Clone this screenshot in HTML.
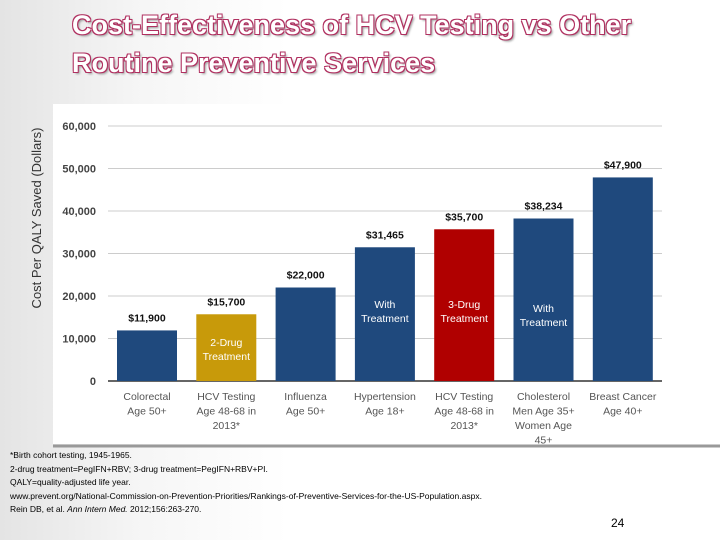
<!DOCTYPE html>
<html><head><meta charset="utf-8"><style>
body{margin:0;width:720px;height:540px;overflow:hidden;background:linear-gradient(90deg,#e4e4e4 0%,#f6f6f6 20%,#fff 40%);font-family:"Liberation Sans",sans-serif;position:relative}
.title{position:absolute;left:72px;top:6px;font-size:27px;font-weight:bold;color:#fff;line-height:38px;
text-shadow:-1px -1px 0 #b03060,1px -1px 0 #b03060,-1px 1px 0 #b03060,1px 1px 0 #b03060,2px 2px 2px #999}
.foot{position:absolute;left:10px;top:449px;font-size:8.5px;line-height:13.5px;color:#000}
</style></head><body>
<div class="title">Cost-Effectiveness of HCV Testing vs Other<br>Routine Preventive Services</div>
<svg width="720" height="540" style="position:absolute;left:0;top:0">
<rect x="53" y="104" width="667" height="340" fill="#fff"/>
<line x1="53" y1="446" x2="720" y2="446" stroke="#999" stroke-width="3"/>
<g id="g"></g>
</svg>
<div class="foot">*Birth cohort testing, 1945-1965.<br>2-drug treatment=PegIFN+RBV; 3-drug treatment=PegIFN+RBV+PI.<br>QALY=quality-adjusted life year.<br>www.prevent.org/National-Commission-on-Prevention-Priorities/Rankings-of-Preventive-Services-for-the-US-Population.aspx.<br>Rein DB, et al. <i>Ann Intern Med.</i> 2012;156:263-270.</div>
<div style="position:absolute;left:611px;top:516px;font-size:12px">24</div>
<script>
const categories=[["Colorectal","Age 50+"],["HCV Testing","Age 48-68 in","2013*"],["Influenza","Age 50+"],["Hypertension","Age 18+"],["HCV Testing","Age 48-68 in","2013*"],["Cholesterol","Men Age 35+","Women Age","45+"],["Breast Cancer","Age 40+"]];
const values=[11900,15700,22000,31465,35700,38234,47900];
const valueLabels=["$11,900","$15,700","$22,000","$31,465","$35,700","$38,234","$47,900"];
const colors=["#1f497d","#c89a0a","#1f497d","#1f497d","#b00000","#1f497d","#1f497d"];
const inner=[null,["2-Drug","Treatment"],null,["With","Treatment"],["3-Drug","Treatment"],["With","Treatment"],null];
const ticks=[0,10000,20000,30000,40000,50000,60000];
const tickLabels=["0","10,000","20,000","30,000","40,000","50,000","60,000"];
const NS="http://www.w3.org/2000/svg",g=document.getElementById('g');
const y=v=>381-v*(255/60000), x0=i=>117+i*79.3, bw=60;
function mk(t,a,txt){const e=document.createElementNS(NS,t);for(const k in a)e.setAttribute(k,a[k]);if(txt!=null)e.textContent=txt;g.appendChild(e);return e;}
ticks.forEach((t,i)=>{
 const l=mk('line',{x1:108,x2:662,y1:y(t),y2:y(t),stroke:t?'#ccc':'#333','stroke-width':t?1:1.5});
 
 
 const tx=mk('text',{x:96,y:y(t)+4,'text-anchor':'end','font-size':11,'font-weight':'bold',fill:'#444'},tickLabels[i]);
 
 
});
values.forEach((v,i)=>{
 const r=mk('rect',{x:x0(i),y:y(v),width:bw,height:381-y(v),fill:colors[i]});
 
 
 const c=x0(i)+bw/2;
 const vl=mk('text',{x:c,y:y(v)-9,'text-anchor':'middle','font-size':10.5,'font-weight':'bold',fill:'#111'},valueLabels[i]);
 
 
 categories[i].forEach((s,j)=>{
  const t=mk('text',{x:c,y:400+j*14.5,'text-anchor':'middle','font-size':10.5,fill:'#555'},s);
  
  
 });
 if(inner[i]){const by=i==1?346:i==5?312:308;
  inner[i].forEach((s,j)=>{const t=mk('text',{x:c,y:by+j*14,'text-anchor':'middle','font-size':10.5,fill:'#fff'},s);
  
  });}
});
const yt=mk('text',{transform:'translate(41,218) rotate(-90)','text-anchor':'middle','font-size':13,fill:'#333'},'Cost Per QALY Saved (Dollars)');


</script>
</body></html>
